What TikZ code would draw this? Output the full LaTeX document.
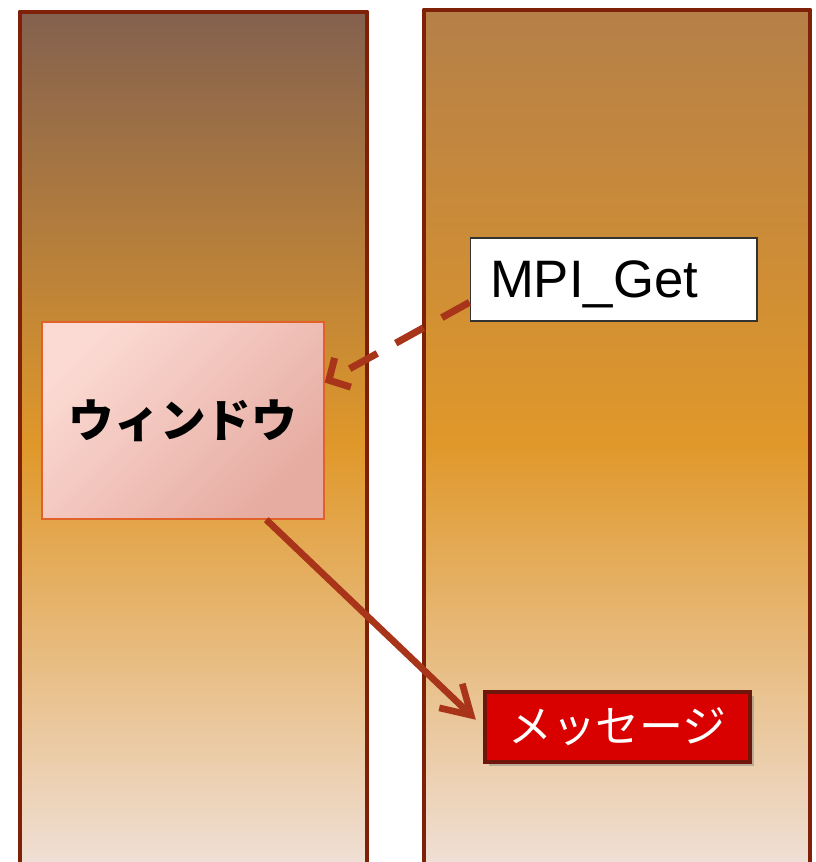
\documentclass[tikz,border=0pt]{standalone}
\usepackage{fontspec}
\newfontfamily\jpfont{Noto Sans CJK JP}
\newfontfamily\latinfont{Liberation Sans}
\usepackage{xcolor}
\definecolor{memborder}{HTML}{7F2108}
\definecolor{memtopL}{HTML}{84614F}
\definecolor{memtopR}{HTML}{B57F48}
\definecolor{memmid}{HTML}{E0982A}
\definecolor{membot}{HTML}{F0E2DC}
\definecolor{winfillA}{HTML}{FBDAD3}
\definecolor{winfillB}{HTML}{E6ABA1}
\definecolor{winborder}{HTML}{E0622A}
\definecolor{msgred}{HTML}{D90000}
\definecolor{msgborder}{HTML}{6E160C}
\definecolor{arrowred}{HTML}{A8341A}
\usetikzlibrary{arrows.meta,positioning,shadows}

\begin{document}
\begin{tikzpicture}[
  x=0.02cm, y=-0.02cm,
  every node/.style={inner sep=0pt},
  memcol/.style={draw=memborder, line width=2.8pt, line join=round},
  window/.style={rectangle, draw=winborder, line width=0.8pt, minimum width=5.64cm, minimum height=3.94cm,
    left color=winfillA, right color=winfillB, shading angle=45, font=\jpfont\bfseries\fontsize{26}{30}\selectfont},
  callbox/.style={rectangle, draw=black!80, line width=0.6pt, fill=white, text width=4.94cm, inner xsep=0.4cm,
    minimum height=1.66cm, align=left, text depth=0pt, font=\latinfont\fontsize{30}{34}\selectfont},
  msgbox/.style={rectangle, draw=msgborder, line width=1.8pt, fill=msgred, minimum width=5.3cm, minimum height=1.4cm,
    text=white, font=\jpfont\fontsize{25}{29}\selectfont,
    drop shadow={shadow xshift=2.5pt, shadow yshift=-2.5pt, opacity=0.45}},
  getline/.style={arrowred, line width=4pt, dash pattern=on 18pt off 12pt, -{Straight Barb[length=9pt, width=19pt]}},
  putline/.style={arrowred, line width=3.8pt, -{Straight Barb[length=16pt, width=19pt]}},
]
  \useasboundingbox (0,0) rectangle (815,862);
  \clip (0,0) rectangle (815,862);

  % memory of the two processes
  \shade[top color=memtopL, bottom color=membot, middle color=memmid] (20,12) rectangle (367,880);
  \draw[memcol] (20,880) -- (20,12) -- (367,12) -- (367,880);
  \shade[top color=memtopR, bottom color=membot, middle color=memmid] (424,10) rectangle (810,880);
  \draw[memcol] (424,880) -- (424,10) -- (810,10) -- (810,880);

  % window, call and message
  \node[window] (win) at (183,420.5) {ウィンドウ};
  \node[callbox] (get) at (613.5,279.5) {MPI\_Get};
  \node[msgbox] (msg) at (617.5,727) {メッセージ};

  \draw[getline] (get.189) -- (win.15);
  \draw[putline, shorten >=6pt] (win.310) -- (msg.west);
\end{tikzpicture}
\end{document}
